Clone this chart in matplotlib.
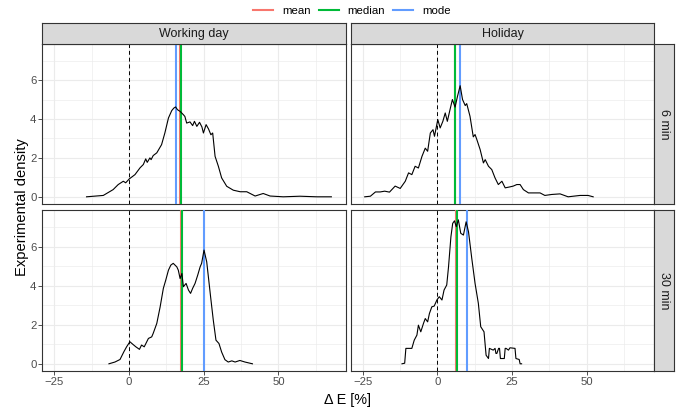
import matplotlib
matplotlib.use("Agg")
import matplotlib.pyplot as plt
from matplotlib.lines import Line2D

plt.rcParams['font.family'] = ['Liberation Sans', 'DejaVu Sans']

# ---------------- data ----------------
wd6_x = [-14.2, -8.6, -5.3, -3.6, -1.9, -1.1, 0.1, 2.0, 3.7, 4.8, 5.6, 6.1, 7.0, 7.4, 8.1, 9.3,
         10.9, 12.0, 13.2, 14.3, 15.0, 15.6, 16.2, 17.1, 18.2, 18.7, 19.3, 20.4, 21.3, 21.9, 22.7,
         23.6, 24.4, 24.9, 25.8, 26.6, 27.4, 28.0, 28.8, 29.9, 31.0, 32.7, 34.9, 37.2, 39.4,
         42.2, 44.9, 47.2, 51.6, 57.2, 62.8, 67.7]
wd6_y = [0.0, 0.07, 0.37, 0.63, 0.80, 0.72, 0.92, 1.14, 1.49, 1.66, 1.95, 1.77, 2.0, 1.91, 2.12, 2.26,
         2.68, 3.28, 4.05, 4.43, 4.56, 4.62, 4.48, 4.39, 4.22, 4.13, 3.79, 3.85, 3.66, 3.88, 3.62,
         3.83, 3.59, 3.28, 3.71, 3.49, 3.19, 3.28, 2.08, 1.57, 0.97, 0.54, 0.34, 0.26, 0.26,
         0.04, 0.17, 0.04, 0.0, 0.03, 0.0, 0.0]

hd6_x = [-24.4, -22.5, -20.8, -19.2, -17.7, -16.1, -14.2, -12.5, -10.8, -9.7, -8.6, -7.5, -6.4, -5.2,
         -4.1, -3.3, -2.4, -1.5, -1.0, 0.1, 0.9, 1.8, 2.6, 3.3, 4.2, 5.0, 5.9, 6.7, 7.6, 8.4, 9.3,
         9.8, 10.9, 12.0, 12.6, 13.2, 14.3, 15.4, 16.0, 17.1, 18.2, 19.3, 20.4, 21.6, 22.7, 24.3,
         25.4, 26.6, 27.7, 28.8, 30.5, 32.1, 34.4, 36.0, 38.3, 41.1, 43.8, 47.8, 50.5, 52.2]
hd6_y = [0.0, 0.03, 0.25, 0.25, 0.29, 0.24, 0.55, 0.43, 0.80, 1.23, 1.14, 1.57, 1.48, 2.08,
         2.50, 2.34, 3.28, 3.45, 3.11, 3.97, 3.54, 3.88, 4.31, 3.88, 4.48, 5.00, 4.61, 5.16, 5.71, 5.00, 4.69,
         4.79, 4.14, 3.08, 3.20, 2.94, 2.43, 1.74, 1.91, 1.57, 1.40, 0.97, 0.63, 0.80, 0.46, 0.51,
         0.55, 0.63, 0.63, 0.37, 0.20, 0.20, 0.20, 0.07, 0.12, 0.15, 0.0, 0.07, 0.07, 0.0]

wd30_x = [-6.7, -4.7, -3.0, -1.7, -0.8, 0.3, 1.2, 2.3, 3.5, 4.2, 5.1, 6.5, 7.6, 8.1, 9.3, 10.4,
          11.5, 12.3, 13.2, 14.0, 14.8, 15.4, 16.0, 16.5, 17.1, 17.7, 18.2, 19.1, 19.9, 20.6, 21.3,
          22.1, 23.0, 23.8, 24.3, 25.1, 26.0, 27.3, 28.2, 29.1, 30.1, 31.0, 32.1, 33.2, 34.4, 35.5,
          37.1, 38.8, 41.3]
wd30_y = [0.0, 0.09, 0.22, 0.62, 0.87, 1.13, 1.01, 0.87, 0.74, 0.96, 0.87, 1.30, 1.38, 1.56, 2.07, 2.90,
          3.87, 4.29, 4.80, 5.06, 5.15, 5.06, 4.97, 4.80, 4.37, 4.63, 3.95, 4.12, 3.78, 3.61, 3.87,
          4.12, 4.55, 4.97, 5.15, 5.83, 5.23, 3.44, 2.24, 1.21, 1.04, 0.60, 0.21, 0.09, 0.15, 0.09,
          0.17, 0.09, 0.0]

hd30_x = [-11.9, -11.0, -10.6, -9.7, -8.6, -7.8, -6.9, -6.4, -5.6, -4.7, -4.1, -3.3, -2.7, -1.9, -1.1,
          -0.2, 0.6, 1.5, 2.2, 3.1, 3.7, 4.5, 5.1, 5.7, 6.3, 7.0, 7.8, 8.7, 9.6, 10.4, 11.5, 12.6,
          13.7, 14.5, 15.6, 16.3, 17.1, 17.4, 18.7, 19.3, 19.6, 19.9, 20.5, 20.8, 21.1, 22.4, 22.7,
          23.0, 23.8, 24.3, 26.0, 26.3, 27.4, 27.7, 28.2]
hd30_y = [0.0, 0.03, 0.79, 0.79, 0.79, 1.21, 1.47, 1.98, 1.64, 2.07, 2.32, 2.15, 2.58, 2.92, 2.96,
          3.27, 3.44, 3.27, 3.78, 4.04, 4.97, 6.51, 7.20, 7.33, 7.03, 7.38, 6.69, 6.60, 7.28, 6.77, 5.40, 4.12,
          3.10, 1.90, 1.64, 0.44, 0.27, 0.79, 0.70, 0.79, 0.53, 0.53, 0.79, 0.79, 0.27, 0.27, 0.79,
          0.79, 0.70, 0.82, 0.79, 0.27, 0.22, 0.0, 0.0]

# statistics: [mean, median, mode] for each panel
wd6_stats = [17.2, 17.3, 15.8]
hd6_stats = [5.9, 6.0, 7.7]
wd30_stats = [17.3, 17.7, 25.0]
hd30_stats = [6.3, 6.5, 9.8]

stat_names = ["mean", "median", "mode"]
stat_colors = ["#F8766D", "#00BA38", "#619CFF"]
col_labels = ["Working day", "Holiday"]
row_labels = ["6 min", "30 min"]
x_ticks = [-25, 0, 25, 50]
y_ticks = [0, 2, 4, 6]

# ---------------- figure ----------------
W, H = 699, 412
fig = plt.figure(figsize=(W / 100, H / 100), dpi=100)

def fx(px):
    return px / W

def fy(py):
    return 1 - py / H

col_px = [(42.3, 346.0), (351.0, 654.0)]
row_px = [(43.7, 204.0), (210.3, 371.0)]
strip_top = (23.3, 43.7)
strip_right = (654.0, 674.0)

panels = [[(wd6_x, wd6_y, wd6_stats), (hd6_x, hd6_y, hd6_stats)],
          [(wd30_x, wd30_y, wd30_stats), (hd30_x, hd30_y, hd30_stats)]]

border_col = "#333333"
tick_col = "#4D4D4D"
small = 8.2

for r in range(2):
    for c in range(2):
        x0, x1 = col_px[c]
        y0, y1 = row_px[r]
        ax = fig.add_axes([fx(x0), fy(y1), fx(x1) - fx(x0), (y1 - y0) / H])
        xs, ys, st = panels[r][c]
        ax.set_xticks(x_ticks)
        ax.set_yticks(y_ticks)
        ax.set_xticks([-12.5, 12.5, 37.5, 62.5], minor=True)
        ax.set_yticks([1, 3, 5, 7], minor=True)
        ax.set_xlim(-29.0, 72.6)
        ax.set_ylim(-0.37, 7.87)
        ax.grid(True, which="major", color="#EBEBEB", lw=0.8)
        ax.grid(True, which="minor", color="#EBEBEB", lw=0.45)
        ax.set_axisbelow(True)
        for s in ax.spines.values():
            s.set_color(border_col)
            s.set_linewidth(0.8)
        ax.tick_params(which="minor", length=0)
        ax.tick_params(which="major", length=2.75, width=0.6, color=border_col,
                       labelsize=small, labelcolor=tick_col, pad=1.5)
        if c != 0:
            ax.tick_params(axis="y", which="major", labelleft=False, length=0)
        if r != 1:
            ax.tick_params(axis="x", which="major", labelbottom=False, length=0)
        ax.set_xticklabels(["\u221225", "0", "25", "50"] if r == 1 else [])
        ax.axvline(0, color="black", lw=0.7, ls=(0, (4, 3)), zorder=2)
        for v, colr in zip(st, stat_colors):
            ax.axvline(v, color=colr, lw=1.5, zorder=3)
        ax.plot(xs, ys, color="black", lw=0.8, zorder=4)

# top strips
for c in range(2):
    x0, x1 = col_px[c]
    sax = fig.add_axes([fx(x0), fy(strip_top[1]), fx(x1) - fx(x0), (strip_top[1] - strip_top[0]) / H])
    sax.set_facecolor("#D9D9D9")
    sax.set_xticks([]); sax.set_yticks([])
    for s in sax.spines.values():
        s.set_color(border_col); s.set_linewidth(0.8)
    sax.text(0.5, 0.5, col_labels[c], ha="center", va="center", fontsize=9.0, color="#1A1A1A",
             transform=sax.transAxes)

# right strips
for r in range(2):
    y0, y1 = row_px[r]
    sax = fig.add_axes([fx(strip_right[0]), fy(y1), fx(strip_right[1]) - fx(strip_right[0]), (y1 - y0) / H])
    sax.set_facecolor("#D9D9D9")
    sax.set_xticks([]); sax.set_yticks([])
    for s in sax.spines.values():
        s.set_color(border_col); s.set_linewidth(0.8)
    sax.text(0.5, 0.5, row_labels[r], ha="center", va="center", fontsize=9.0, color="#1A1A1A",
             rotation=-90, transform=sax.transAxes)

# axis titles
fig.text(fx(22), fy((43.7 + 371) / 2), "Experimental density", rotation=90, ha="center", va="center",
         fontsize=10.6, color="black")
fig.text(fx(348), fy(404), "\u0394 E [%]", ha="center", va="baseline", fontsize=10.4, color="black")

# legend
handles = [Line2D([0], [0], color=cl, lw=1.5) for cl in stat_colors]
fig.legend(handles, stat_names, loc="center", bbox_to_anchor=(fx(352), fy(10.7)), ncol=3, frameon=False,
           fontsize=small, handlelength=1.75, columnspacing=0.75, handletextpad=0.75, borderaxespad=0,
           borderpad=0)

fig.savefig("out.png", dpi=100)
